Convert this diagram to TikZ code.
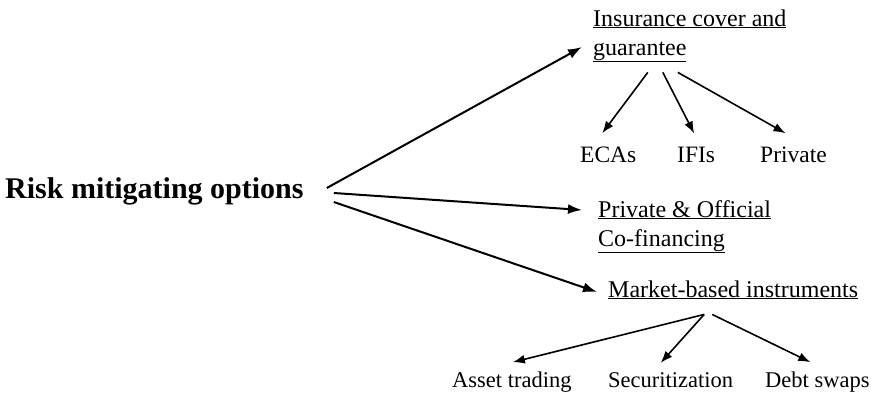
\documentclass[tikz,border=0pt]{standalone}
\usepackage{fontspec}
\setmainfont{Liberation Serif}
\usetikzlibrary{arrows.meta,calc}
\tikzstyle{opt}=[inner sep=0pt, anchor=base west, align=left, font=\fontsize{24}{29}\selectfont]
\tikzstyle{who}=[inner sep=0pt, anchor=base west, font=\fontsize{23.5}{28}\selectfont]
\tikzstyle{inst}=[inner sep=0pt, anchor=base west, font=\fontsize{22.5}{27}\selectfont]
\tikzstyle{main>}=[-{Latex[length=14pt,width=10pt]}, line width=2pt]
\tikzstyle{sub>}=[-{Latex[length=12pt,width=9pt]}, line width=1.6pt]

\begin{document}
\begin{tikzpicture}[x=1pt,y=-1pt]
\useasboundingbox (0,0) rectangle (871,397);
\node[inner sep=0pt, anchor=base west, font=\fontsize{30}{35}\selectfont\bfseries] (risk) at (5,198) {Risk mitigating options};
\node[opt] (ins) at (593,55) {\underline{Insurance cover and}\\\underline{guarantee}};
\node[opt] (cofin) at (598,246) {\underline{Private \& Official}\\\underline{Co-financing}};
\node[opt] (market) at (608,297) {\underline{Market-based instruments}};
\node[who] (ecas) at (580,162) {ECAs};
\node[who] (ifis) at (677,162) {IFIs};
\node[who] (priv) at (760,162) {Private};
\node[inst] (asset) at (452,387) {Asset trading};
\node[inst] (secur) at (608,387) {Securitization};
\node[inst] (debt) at (765,387) {Debt swaps};
\draw[main>] ([shift={(23,-10)}]risk.base east) -- ([shift={(-11,-8)}]ins.base west);
\draw[main>] ([shift={(30,-5)}]risk.base east) -- ([shift={(-16,-36)}]cofin.base west);
\draw[main>] ([shift={(30,4)}]risk.base east) -- ([shift={(-11,-5)}]market.base west);
\draw[sub>] ([shift={(-42,10)}]ins.south) -- ([shift={(-6,-13)}]ecas.north);
\draw[sub>] ([shift={(-27,10)}]ins.south) -- ([shift={(-2,-13)}]ifis.north);
\draw[sub>] ([shift={(-12,10)}]ins.south) -- ([shift={(-8,-13)}]priv.north);
\draw[sub>] ([shift={(-29,15)}]market.south) -- ([shift={(1,-9)}]asset.north);
\draw[sub>] ([shift={(-29,15)}]market.south) -- ([shift={(-10,-9)}]secur.north);
\draw[sub>] ([shift={(-21,15)}]market.south) -- ([shift={(-7,-9)}]debt.north);
\end{tikzpicture}
\end{document}
